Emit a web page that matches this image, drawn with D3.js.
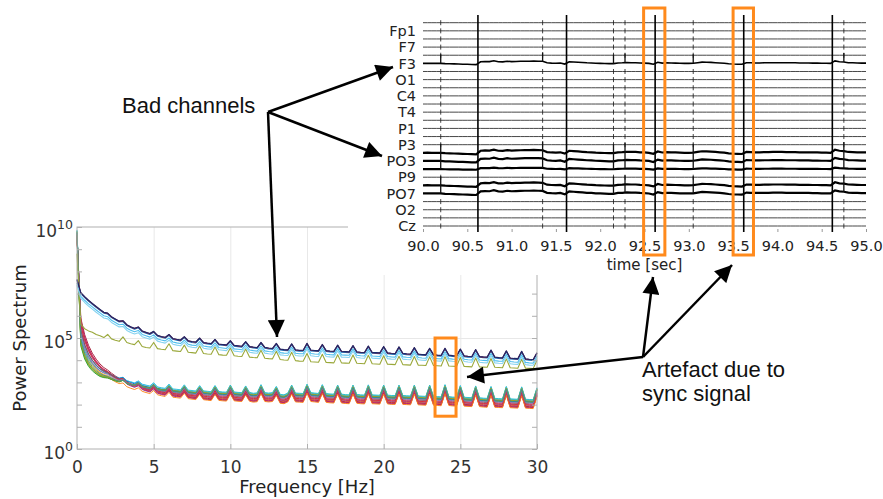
<!DOCTYPE html>
<html>
<head>
<meta charset="utf-8">
<script src="https://cdn.jsdelivr.net/npm/d3@7"></script>
<style>
  body { margin: 0; background: #fff; }
  svg { display: block; }
  .eeg-axis text { font-family: "DejaVu Sans", sans-serif; font-size: 14.5px; fill: #222; }
  .spec-axis text { font-family: "DejaVu Sans", sans-serif; font-size: 17px; fill: #333; }
  .axis-title { font-family: "DejaVu Sans", sans-serif; fill: #222; }
  .note { font-family: "Liberation Sans", Arial, sans-serif; font-size: 22px; fill: #111; }
</style>
</head>
<body>
<svg id="chart"></svg>
<script>
      var svgWidth = 883, svgHeight = 499;

      // ---------- power spectrum data (log10 power, 0.25 Hz steps from 0 to 30 Hz) ----------
      var freqStep = 0.25;
      var upperProfile = [
        7.6, 7.0, 6.82, 6.66,   6.52, 6.38, 6.25, 6.12,   6.08, 5.92, 5.82, 5.72,
        5.74, 5.56, 5.47, 5.4,  5.46, 5.28, 5.22, 5.16,   5.26, 5.08, 5.03, 4.99,
        5.12, 4.94, 4.9, 4.87,  5.02, 4.84, 4.8, 4.78,    4.96, 4.76, 4.73, 4.71,
        4.9, 4.69, 4.67, 4.65,  4.84, 4.63, 4.61, 4.59,   4.8, 4.58, 4.55, 4.53,
        4.76, 4.54, 4.51, 4.49, 4.72, 4.46, 4.44, 4.43,   4.7, 4.43, 4.41, 4.41,
        4.72, 4.42, 4.4, 4.39,  4.67, 4.39, 4.37, 4.36,   4.64, 4.36, 4.35, 4.34,
        4.62, 4.34, 4.32, 4.31, 4.6, 4.31, 4.3, 4.29,     4.58, 4.29, 4.27, 4.26,
        4.56, 4.27, 4.25, 4.24, 4.53, 4.24, 4.22, 4.21,   4.5, 4.21, 4.19, 4.18,
        4.5, 4.19, 4.17, 4.16,  4.46, 4.16, 4.14, 4.13,   4.44, 4.13, 4.11, 4.1,
        4.42, 4.1, 4.08, 4.07,  4.38, 4.06, 4.04, 4.03,   4.36, 4.02, 4.0, 3.99,
        4.3
      ];
      var oliveProfile = [
        8.8, 5.62, 5.42, 5.32,  5.26, 5.16, 5.1, 5.02,    5.16, 4.96, 4.9, 4.85,
        5.05, 4.8, 4.74, 4.7,   4.88, 4.62, 4.57, 4.55,   4.8, 4.52, 4.49, 4.47,
        4.74, 4.43, 4.41, 4.39, 4.68, 4.36, 4.34, 4.32,   4.64, 4.3, 4.28, 4.27,
        4.6, 4.25, 4.23, 4.22,  4.55, 4.2, 4.18, 4.17,    4.5, 4.14, 4.12, 4.11,
        4.45, 4.09, 4.07, 4.06, 4.4, 4.03, 4.01, 4.0,     4.36, 3.98, 3.96, 3.95,
        4.3, 3.93, 3.92, 3.91,  4.27, 3.9, 3.89, 3.88,    4.25, 3.88, 3.87, 3.86,
        4.23, 3.86, 3.85, 3.84, 4.22, 3.84, 3.83, 3.82,   4.2, 3.82, 3.81, 3.8,
        4.18, 3.8, 3.79, 3.78,  4.17, 3.78, 3.77, 3.76,   4.15, 3.76, 3.75, 3.74,
        4.16, 3.74, 3.73, 3.72, 4.12, 3.72, 3.71, 3.7,    4.1, 3.7, 3.69, 3.68,
        4.08, 3.68, 3.67, 3.66, 4.06, 3.66, 3.65, 3.64,   4.04, 3.64, 3.63, 3.62,
        4.0
      ];
      var lowerProfile = [
        9.7, 5.2, 4.55, 4.15,   3.88, 3.68, 3.52, 3.42,   3.36, 3.26, 3.17, 3.1,
        3.14, 2.98, 2.92, 2.87, 2.95, 2.8, 2.75, 2.71,    2.85, 2.66, 2.62, 2.59,
        2.78, 2.56, 2.54, 2.52, 2.74, 2.5, 2.48, 2.46,    2.7, 2.46, 2.44, 2.42,
        2.7, 2.43, 2.41, 2.4,   2.72, 2.41, 2.39, 2.38,   2.68, 2.39, 2.35, 2.37,
        2.74, 2.38, 2.36, 2.38, 2.66, 2.3, 2.28, 2.36,    2.72, 2.36, 2.35, 2.34,
        2.76, 2.38, 2.36, 2.34, 2.74, 2.34, 2.32, 2.31,   2.72, 2.31, 2.29, 2.28,
        2.72, 2.3, 2.28, 2.27,  2.73, 2.28, 2.27, 2.26,   2.72, 2.27, 2.25, 2.25,
        2.72, 2.25, 2.24, 2.23, 2.72, 2.23, 2.22, 2.21,   2.72, 2.21, 2.2, 2.19,
        2.74, 2.2, 2.18, 2.17,  2.7, 2.17, 2.16, 2.15,    2.68, 2.15, 2.13, 2.12,
        2.66, 2.12, 2.11, 2.1,  2.66, 2.1, 2.09, 2.08,    2.64, 2.08, 2.07, 2.06,
        2.6
      ];
      // extra low frequency spread of the good channels (0 - 8 Hz)
      var lowShape = [0, 1.0, 0.9, 0.8, 0.7, 0.62, 0.55, 0.48, 0.42, 0.37, 0.33, 0.29, 0.25, 0.22, 0.19, 0.17,
        0.15, 0.13, 0.11, 0.1, 0.09, 0.08, 0.07, 0.06, 0.05, 0.05, 0.04, 0.04, 0.03, 0.03, 0.02, 0.02, 0.01];

      var upperColors = ["#0b6fb8", "#4dbeee", "#86d3f0", "#a2142f", "#1a2a6c"];
      var upperOffsets = [0.0, -0.12, -0.22, 0.03, 0.04];
      var oliveColor = "#9aa83a";
      var lowerColors = ["#a2142f", "#7e2f8e", "#d95319", "#c2185b", "#8e44ad", "#e377c2", "#ff7f0e", "#edb120",
        "#bcbd22", "#77ac30", "#2ca02c", "#4c9a2a", "#17becf", "#4dbeee", "#0072bd", "#8c564b", "#d62728",
        "#9467bd", "#a0a020", "#3f8f8f"];
      var lowerOffsets = [-0.16, -0.21, -0.13, -0.19, -0.1, -0.06, -0.24, 0.03, 0.07, 0.1, 0.13, 0.08, 0.16,
        0.12, 0.05, -0.03, -0.08, 0.0, 0.09, 0.04];
      var lowerSpread = [0.85, 0.7, 0.6, 0.75, 0.5, 0.4, 0.3, -0.2, -0.4, -0.6, -0.7, -0.5, -0.3, -0.1, 0.1,
        0.2, 0.45, 0.0, -0.5, -0.3];

      var freqTicks = [0, 5, 10, 15, 20, 25, 30];
      var powerTicks = [1, 1e5, 1e10];
      var decadeTicks = [1, 1e1, 1e2, 1e3, 1e4, 1e5, 1e6, 1e7, 1e8, 1e9, 1e10];
      var specBoxFreq = [23.35, 24.72], specBoxPow = [1e5, 30];

      // ---------- EEG data ----------
      var nChannels = 26;
      var channelLabels = ["Fp1", "F7", "F3", "O1", "C4", "T4", "P1", "P3", "PO3", "P9", "PO7", "O2", "Cz"];
      var badChannels = [5, 16, 17, 18, 20, 21];
      var badGains = [0.8, 1.0, 1.0, 0.45, 1.0, 1.0];
      var timeTicks = [90.0, 90.5, 91.0, 91.5, 92.0, 92.5, 93.0, 93.5, 94.0, 94.5, 95.0];
      var syncTimes = [90.62, 91.62, 92.62, 93.62, 94.62];
      var eventTimes = [90.2, 91.35, 92.15, 92.28, 93.05, 94.75];
      var syncBoxes = [[92.49, 92.73], [93.5, 93.73]];
      var timeStep = 0.05;
      // slow drift shared by the bad channels, 90.00 .. 95.00 s
      var badProfile = [
        0.0, 0.1, 0.0, 0.0, 0.0, -0.2, -0.3, -0.4, -0.5, -0.6, -0.7, -0.8, -0.9,
        1.2, 1.4, 1.3, 1.9, 1.2, 1.1, 1.6, 1.3, 1.4, 1.5, 1.6, 1.6, 1.7, 1.6, 1.5,
        0.4, 0.2, 0.1, 0.3, -0.5,
        1.2, 1.0, 0.8, 0.6, 0.4, 0.3, 0.1, 0.0, -0.1, -0.2, -0.2, 0.3, 0.4, 0.6, 0.5, 0.5, 0.3, 0.2, 0.0, -0.6,
        0.8, 0.2, 0.4, 0.3, 0.2, 0.1, 0.0, 0.0, 0.1, 0.5, 0.9, 0.8, 0.7, 0.5, 0.3, 0.1, -0.3, -0.5, -0.6, -0.7,
        0.5, 0.4, 0.3, 0.3, 0.4, 0.4, 0.5, 0.5, 0.5, 0.4, 0.4, 0.4, 0.3, 0.3, 0.3, 0.2, 0.2, 0.1, 0.1, 0.0,
        1.8, 1.2, 1.0, 0.5, 0.4, 0.3, 0.2, 0.2
      ];

      // annotations
      var badNote = {text: ["Bad channels"], x: 122, y: 113};
      var syncNote = {text: ["Artefact due to", "sync signal"], x: 642, y: 377};
      var arrows = [
        [[268, 112], [393, 67]], [[268, 112], [382, 156]], [[268, 112], [277, 337]],
        [[643, 357], [653, 277]], [[643, 357], [732, 265]], [[643, 357], [467, 377]]
      ];

      var svg = d3.select("#chart").attr("width", svgWidth).attr("height", svgHeight);

      // ================= spectrum =================
      var fx = d3.scaleLinear().domain([0, 30]).range([77, 537]);
      var py = d3.scaleLog().domain([1, 1e10]).range([449, 227]);
      var spec = svg.append("g").classed("spectrum", true);

      // grid
      spec.append("g")
        .attr("transform", "translate(0,449)")
        .call(d3.axisBottom(fx).tickValues([5, 10, 15, 20, 25]).tickSize(-(449 - 227)).tickFormat(""))
        .call(g => g.select(".domain").remove())
        .selectAll("line").attr("stroke", "#e8e8e8");
      spec.append("g")
        .attr("transform", "translate(77,0)")
        .call(d3.axisLeft(py).tickValues([1e5]).tickSize(-(537 - 77)).tickFormat(""))
        .call(g => g.select(".domain").remove())
        .selectAll("line").attr("stroke", "#e8e8e8");

      // lines
      var freqs = upperProfile.map((v, i) => i * freqStep);
      var specLine = d3.line()
        .x((d, i) => fx(freqs[i]))
        .y(d => py(Math.pow(10, d)));

      var series = [];
      lowerColors.forEach(function (c, j) {
        series.push({color: c, width: 0.9, values: lowerProfile.map((v, i) => v + lowerOffsets[j] + lowerSpread[j] * (lowShape[i] || 0))});
      });
      series.push({color: oliveColor, width: 1.1, values: oliveProfile});
      upperColors.forEach(function (c, j) {
        series.push({color: c, width: 1.1, values: upperProfile.map(v => v + upperOffsets[j])});
      });

      spec.append("g").selectAll("path")
        .data(series)
        .enter().append("path")
          .attr("d", d => specLine(d.values))
          .attr("fill", "none")
          .attr("stroke", d => d.color)
          .attr("stroke-width", d => d.width)
          .attr("stroke-linejoin", "round");

      // frame
      spec.append("rect")
        .attr("x", 77).attr("y", 227).attr("width", 537 - 77).attr("height", 449 - 227)
        .attr("fill", "none").attr("stroke", "#b0b0b0").attr("stroke-width", 1);

      // x axis
      var xAx = spec.append("g").classed("spec-axis", true)
        .attr("transform", "translate(0,449)")
        .call(d3.axisBottom(fx).tickValues(freqTicks).tickSizeInner(-5).tickSizeOuter(0).tickPadding(12));
      xAx.select(".domain").remove();
      xAx.selectAll("line").attr("stroke", "#b0b0b0");

      // y axis, decade ticks both sides
      spec.append("g").attr("transform", "translate(77,0)")
        .call(d3.axisLeft(py).tickValues(decadeTicks).tickSize(-5).tickFormat(""))
        .call(g => g.select(".domain").remove())
        .selectAll("line").attr("stroke", "#b0b0b0");
      spec.append("g").attr("transform", "translate(537,0)")
        .call(d3.axisRight(py).tickValues(decadeTicks).tickSize(-5).tickFormat(""))
        .call(g => g.select(".domain").remove())
        .selectAll("line").attr("stroke", "#b0b0b0");

      var yAx = spec.append("g").classed("spec-axis", true)
        .attr("transform", "translate(77,0)")
        .call(d3.axisLeft(py).tickValues(powerTicks).tickSize(0).tickPadding(4));
      yAx.select(".domain").remove();
      yAx.selectAll("text")
        .attr("dy", "0.55em")
        .text("")
        .each(function (d) {
          var t = d3.select(this);
          t.append("tspan").text("10");
          t.append("tspan").attr("dy", "-0.6em").style("font-size", "12.5px").text(Math.round(Math.log10(d)));
        });

      spec.append("text").classed("axis-title", true)
        .attr("x", fx(15)).attr("y", 493)
        .attr("text-anchor", "middle").style("font-size", "18px")
        .text("Frequency [Hz]");
      spec.append("text").classed("axis-title", true)
        .attr("transform", "translate(26," + py(1e5) + ") rotate(-90)")
        .attr("text-anchor", "middle").style("font-size", "18px")
        .text("Power Spectrum");

      // ================= EEG panel =================
      svg.append("rect")
        .attr("x", 348).attr("y", 0).attr("width", svgWidth - 348).attr("height", 275)
        .attr("fill", "#fff");

      var tx = d3.scaleLinear().domain([90, 95]).range([423, 866]);
      var chY = d3.scalePoint().domain(d3.range(nChannels)).range([22.7, 226]);
      var amp = d3.scaleLinear().domain([0, 1]).range([0, -1.7]);
      var times = badProfile.map((v, i) => 90 + i * timeStep);
      var eeg = svg.append("g").classed("eeg", true);

      var traces = d3.range(nChannels).map(function (ch) {
        var k = badChannels.indexOf(ch);
        return {
          ch: ch,
          bad: k >= 0,
          values: badProfile.map(v => k >= 0 ? v * badGains[k] : 0)
        };
      });
      var traceLine = d3.line()
        .x((d, i) => tx(times[i]))
        .y(d => amp(d));

      eeg.append("g").selectAll("path")
        .data(traces)
        .enter().append("path")
          .attr("transform", d => "translate(0," + chY(d.ch) + ")")
          .attr("d", d => traceLine(d.values))
          .attr("fill", "none")
          .attr("stroke", d => d.bad ? "#000" : "#333")
          .attr("stroke-width", d => d.bad ? (d.ch == 5 ? 1.6 : 2.2) : 0.9);

      // event blips: small on good channels, tall spikes on bad ones
      var blips = [];
      traces.forEach(function (tr) {
        eventTimes.forEach(function (t) {
          var base = chY(tr.ch) + amp(tr.values[Math.round((t - 90) / timeStep)]);
          blips.push(tr.bad ? {t: t, y0: base, y1: base - 9, w: 1.3} : {t: t, y0: base - 2.5, y1: base + 2.5, w: 0.8});
        });
      });
      eeg.append("g").selectAll("line")
        .data(blips)
        .enter().append("line")
          .attr("x1", d => tx(d.t)).attr("x2", d => tx(d.t))
          .attr("y1", d => d.y0).attr("y2", d => d.y1)
          .attr("stroke", "#111").attr("stroke-width", d => d.w);

      // sync pulses across all channels
      eeg.append("g").selectAll("line")
        .data(syncTimes)
        .enter().append("line")
          .attr("x1", d => tx(d)).attr("x2", d => tx(d))
          .attr("y1", 15).attr("y2", 232)
          .attr("stroke", "#000").attr("stroke-width", 1.6);

      // axes
      var tAx = eeg.append("g").classed("eeg-axis", true)
        .attr("transform", "translate(0,232)")
        .call(d3.axisBottom(tx).tickValues(timeTicks).tickFormat(d3.format(".1f")).tickSizeInner(-3).tickSizeOuter(0).tickPadding(9));
      tAx.select(".domain").remove();
      tAx.selectAll("line").attr("stroke", "#999");

      var cAx = eeg.append("g").classed("eeg-axis", true)
        .attr("transform", "translate(418,0)")
        .call(d3.axisLeft(chY).tickValues(channelLabels.map((n, i) => 2 * i + 1)).tickFormat(i => channelLabels[(i - 1) / 2]).tickSize(0).tickPadding(2));
      cAx.select(".domain").remove();

      eeg.append("text").classed("axis-title", true)
        .attr("x", tx(92.5)).attr("y", 270)
        .attr("text-anchor", "middle").style("font-size", "15px")
        .text("time [sec]");

      // ================= highlight boxes =================
      var hl = svg.append("g").classed("highlights", true)
        .attr("fill", "none").attr("stroke", "#ff8a1c").attr("stroke-width", 3);
      hl.selectAll(".eegbox")
        .data(syncBoxes)
        .enter().append("rect")
          .classed("eegbox", true)
          .attr("x", d => tx(d[0])).attr("width", d => tx(d[1]) - tx(d[0]))
          .attr("y", 8).attr("height", 247);
      hl.append("rect")
        .attr("x", fx(specBoxFreq[0])).attr("width", fx(specBoxFreq[1]) - fx(specBoxFreq[0]))
        .attr("y", py(specBoxPow[0])).attr("height", py(specBoxPow[1]) - py(specBoxPow[0]));

      // ================= annotations =================
      svg.append("defs").append("marker")
        .attr("id", "head")
        .attr("viewBox", "0 0 10 10")
        .attr("refX", 10).attr("refY", 5)
        .attr("markerUnits", "userSpaceOnUse")
        .attr("markerWidth", 18).attr("markerHeight", 17)
        .attr("orient", "auto")
        .append("path").attr("d", "M0,0 L10,5 L0,10 z").attr("fill", "#000");

      svg.append("g").selectAll("line")
        .data(arrows)
        .enter().append("line")
          .attr("x1", d => d[0][0]).attr("y1", d => d[0][1])
          .attr("x2", d => d[1][0]).attr("y2", d => d[1][1])
          .attr("stroke", "#000").attr("stroke-width", 2.5)
          .attr("marker-end", "url(#head)");

      [badNote, syncNote].forEach(function (n) {
        svg.append("g").selectAll("text")
          .data(n.text)
          .enter().append("text")
            .classed("note", true)
            .attr("x", n.x).attr("y", (d, i) => n.y + i * 24)
            .text(d => d);
      });
</script>
</body>
</html>
